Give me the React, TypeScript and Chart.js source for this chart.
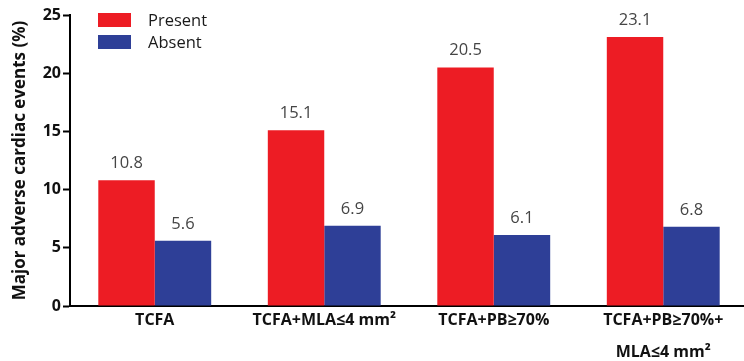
import React, { useEffect, useRef } from "react";
import { Chart, registerables } from "chart.js";

Chart.register(...registerables);

const categories: (string | string[])[] = [
  "TCFA",
  "TCFA+MLA≤4 mm²",
  "TCFA+PB≥70%",
  ["TCFA+PB≥70%+", "MLA≤4 mm²"],
];
const presentValues = [10.8, 15.1, 20.5, 23.1];
const absentValues = [5.6, 6.9, 6.1, 6.8];
const seriesNames = ["Present", "Absent"];
const yTicks = [0, 5, 10, 15, 20, 25];

const RED = "#ED1C24";
const BLUE = "#2E3F97";
const FONT = "'Open Sans', 'DejaVu Sans', sans-serif";

const valueLabels = {
  id: "valueLabels",
  afterDatasetsDraw(chart: any) {
    const ctx = chart.ctx;
    ctx.save();
    ctx.font = `16.5px ${FONT}`;
    ctx.fillStyle = "#454545";
    ctx.textAlign = "center";
    ctx.textBaseline = "alphabetic";
    chart.data.datasets.forEach((ds: any, i: number) => {
      const meta = chart.getDatasetMeta(i);
      meta.data.forEach((bar: any, j: number) => {
        ctx.fillText(ds.data[j].toFixed(1), bar.x, bar.y - 12);
      });
    });
    ctx.restore();
  },
};

const customLegend = {
  id: "customLegend",
  afterDraw(chart: any) {
    const ctx = chart.ctx;
    ctx.save();
    const colors = [RED, BLUE];
    seriesNames.forEach((name, i) => {
      const y = 13 + i * 22;
      ctx.fillStyle = colors[i];
      ctx.fillRect(98, y, 33, 14);
      ctx.fillStyle = "#1a1a1a";
      ctx.font = `16.5px ${FONT}`;
      ctx.textAlign = "left";
      ctx.textBaseline = "middle";
      ctx.fillText(name, 148, y + 8);
    });
    ctx.restore();
  },
};

export default function App() {
  const ref = useRef<HTMLCanvasElement | null>(null);
  useEffect(() => {
    document.body.style.margin = "0";
    const chart = new Chart(ref.current!, {
      type: "bar",
      data: {
        labels: categories,
        datasets: [
          {
            label: seriesNames[0],
            data: presentValues,
            backgroundColor: RED,
            borderWidth: 0,
          },
          {
            label: seriesNames[1],
            data: absentValues,
            backgroundColor: BLUE,
            borderWidth: 0,
          },
        ],
      },
      options: {
        animation: false,
        responsive: false,
        maintainAspectRatio: false,
        layout: { padding: { top: 15, right: 0, left: 0, bottom: 0 } },
        plugins: {
          legend: { display: false },
          tooltip: { enabled: false },
        },
        datasets: {
          bar: { categoryPercentage: 0.666, barPercentage: 1.0 },
        },
        scales: {
          x: {
            grid: { display: false },
            border: { display: true, color: "#000", width: 2 },
            ticks: {
              color: "#111",
              font: { family: FONT, size: 16, weight: "bold", lineHeight: 2.0 },
              maxRotation: 0,
              autoSkip: false,
              padding: -10,
            },
            afterFit(scale: any) {
              scale.height = 55;
            },
          },
          y: {
            min: 0,
            max: 25,
            afterBuildTicks(scale: any) {
              scale.ticks = yTicks.map((v) => ({ value: v }));
            },
            grid: {
              drawOnChartArea: false,
              drawTicks: true,
              tickLength: 7,
              tickWidth: 2,
              tickColor: "#000",
            },
            border: { display: true, color: "#000", width: 2 },
            ticks: {
              color: "#111",
              font: { family: FONT, size: 16, weight: "bold" },
              padding: 2,
            },
            title: {
              display: true,
              text: "Major adverse cardiac events (%)",
              color: "#111",
              font: { family: FONT, size: 17, weight: "bold" },
              padding: { top: 10, bottom: 0 },
            },
            afterFit(scale: any) {
              scale.width = 70;
            },
          },
        },
      },
      plugins: [valueLabels, customLegend],
    });
    return () => chart.destroy();
  }, []);
  return (
    <div style={{ width: 744, height: 361, overflow: "hidden" }}>
      <canvas ref={ref} width={748} height={361} style={{ display: "block" }} />
    </div>
  );
}
